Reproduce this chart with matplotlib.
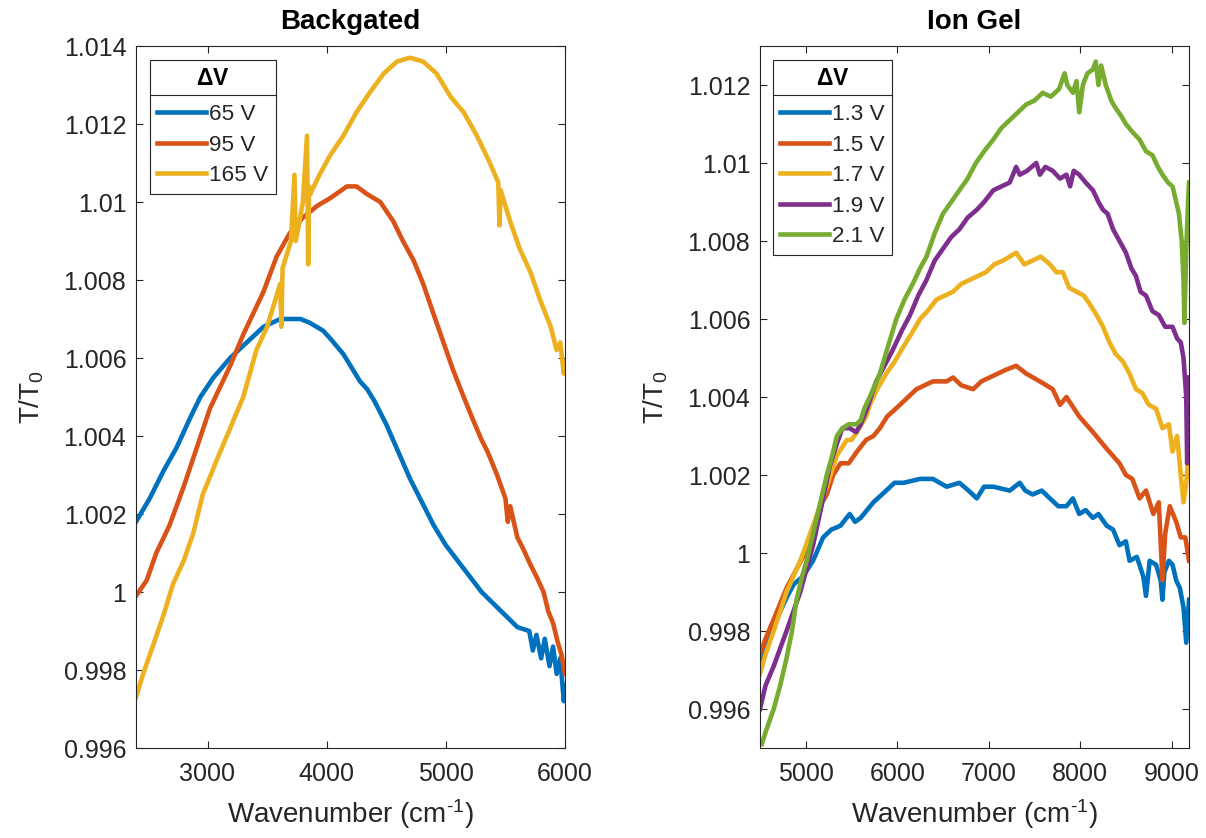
import matplotlib
matplotlib.use("Agg")
import matplotlib.pyplot as plt
from matplotlib.lines import Line2D
from matplotlib.ticker import FuncFormatter

# --- fonts: MATLAB-like Helvetica look ---
plt.rcParams['font.family'] = ['Liberation Sans', 'DejaVu Sans']
plt.rcParams['mathtext.fontset'] = 'custom'
plt.rcParams['mathtext.rm'] = 'Liberation Sans'
plt.rcParams['mathtext.it'] = 'Liberation Sans:italic'
plt.rcParams['mathtext.bf'] = 'Liberation Sans:bold'

# MATLAB default colour order
C_BLUE = '#0072BD'
C_ORANGE = '#D95319'
C_YELLOW = '#EDB120'
C_PURPLE = '#7E2F8E'
C_GREEN = '#77AC30'
INK = '#262626'

# ---------------- Backgated data ----------------
bg_labels = ['65 V', '95 V', '165 V']

bg_x_65 = [2400, 2515, 2630, 2740, 2860, 2940, 3050, 3190, 3330, 3470, 3610, 3690,
           3780, 3860, 3970, 4030, 4085, 4140, 4200, 4280, 4340, 4400, 4450, 4500,
           4600, 4700, 4800, 4900, 5000, 5100, 5200, 5300, 5400, 5500, 5600, 5700,
           5730, 5760, 5800, 5830, 5870, 5900, 5930, 5960, 5990, 6000]
bg_y_65 = [1.0018, 1.0024, 1.0031, 1.0037, 1.0045, 1.0050, 1.0055, 1.0060, 1.0064, 1.0068, 1.0070, 1.0070,
           1.0070, 1.0069, 1.0067, 1.0065, 1.0063, 1.0061, 1.0058, 1.0054, 1.0052, 1.0049, 1.0046, 1.0043,
           1.0036, 1.0029, 1.0023, 1.0017, 1.0012, 1.0008, 1.0004, 1.0000, 0.9997, 0.9994, 0.9991, 0.9990,
           0.9985, 0.9989, 0.9983, 0.9988, 0.9981, 0.9986, 0.9979, 0.9983, 0.9972, 0.9976]

bg_x_95 = [2400, 2490, 2570, 2680, 2800, 2910, 3020, 3190, 3300, 3470, 3580, 3690,
           3800, 3920, 4030, 4170, 4250, 4340, 4450, 4560, 4640, 4730, 4810, 4900,
           4980, 5060, 5150, 5230, 5300, 5350, 5430, 5500, 5520, 5540, 5600, 5650,
           5710, 5760, 5820, 5860, 5900, 5940, 5970, 6000]
bg_y_95 = [0.9999, 1.0003, 1.0010, 1.0017, 1.0027, 1.0037, 1.0047, 1.0058, 1.0066, 1.0077, 1.0086, 1.0092,
           1.0096, 1.0099, 1.0101, 1.0104, 1.0104, 1.0102, 1.0100, 1.0095, 1.0090, 1.0085, 1.0079, 1.0071,
           1.0064, 1.0057, 1.0050, 1.0044, 1.0039, 1.0036, 1.0030, 1.0024, 1.0018, 1.0022, 1.0014, 1.0011,
           1.0007, 1.0004, 1.0000, 0.9995, 0.9992, 0.9987, 0.9984, 0.9979]

bg_x_165 = [2400, 2460, 2540, 2630, 2710, 2800, 2880, 2960, 3080, 3190, 3300, 3410,
            3500, 3580, 3610, 3620, 3630, 3700, 3730, 3740, 3760, 3800, 3835, 3845, 3852, 3862,
            3940, 4030, 4140, 4250, 4360, 4480, 4590, 4700, 4810, 4920, 5040, 5150,
            5260, 5370, 5440, 5450, 5460, 5540, 5620, 5710, 5790, 5880, 5930, 5960, 5990, 6000]
bg_y_165 = [0.9973, 0.9979, 0.9986, 0.9994, 1.0002, 1.0008, 1.0015, 1.0025, 1.0034, 1.0042, 1.0050, 1.0062,
            1.0068, 1.0076, 1.0079, 1.0068, 1.0083, 1.0090, 1.0107, 1.0090, 1.0093, 1.0100, 1.0117, 1.0084, 1.0104, 1.0102,
            1.0107, 1.0112, 1.0117, 1.0123, 1.0128, 1.0133, 1.0136, 1.0137, 1.0136, 1.0133, 1.0127, 1.0123,
            1.0117, 1.0110, 1.0105, 1.0094, 1.0103, 1.0095, 1.0088, 1.0082, 1.0075, 1.0068, 1.0062, 1.0064, 1.0056, 1.0059]

# ---------------- Ion gel data ----------------
ig_labels = ['1.3 V', '1.5 V', '1.7 V', '1.9 V', '2.1 V']

ig_x_13 = [4500, 4560, 4650, 4720, 4800, 4870, 4970, 5080, 5190, 5280, 5380, 5480,
           5540, 5600, 5740, 5880, 5970, 6070, 6250, 6390, 6540, 6680, 6780, 6870,
           6950, 7050, 7230, 7340, 7400, 7480, 7580, 7670, 7760, 7850, 7920, 7990,
           8060, 8140, 8200, 8290, 8360, 8430, 8500, 8540, 8620, 8690, 8720, 8760,
           8830, 8880, 8900, 8920, 8970, 9010, 9050, 9090, 9130, 9160, 9190]
ig_y_13 = [0.9972, 0.9976, 0.9981, 0.9985, 0.9989, 0.9992, 0.9994, 0.9998, 1.0004, 1.0006, 1.0007, 1.0010,
           1.0008, 1.0009, 1.0013, 1.0016, 1.0018, 1.0018, 1.0019, 1.0019, 1.0017, 1.0018, 1.0016, 1.0014,
           1.0017, 1.0017, 1.0016, 1.0018, 1.0016, 1.0015, 1.0016, 1.0014, 1.0012, 1.0012, 1.0014, 1.0010,
           1.0011, 1.0009, 1.0010, 1.0007, 1.0006, 1.0002, 1.0003, 0.9998, 0.9999, 0.9994, 0.9989, 0.9998,
           0.9997, 0.9993, 0.9988, 0.9995, 0.9998, 0.9997, 0.9993, 0.9991, 0.9986, 0.9977, 0.9988]

ig_x_15 = [4500, 4560, 4650, 4720, 4790, 4880, 4970, 5050, 5120, 5180, 5230, 5300,
           5380, 5470, 5560, 5660, 5740, 5810, 5890, 6030, 6210, 6390, 6540, 6610,
           6700, 6830, 6920, 7010, 7190, 7300, 7410, 7560, 7700, 7780, 7850, 7990,
           8140, 8280, 8430, 8500, 8570, 8650, 8720, 8800, 8860, 8900, 8930, 8980,
           9050, 9100, 9150, 9190]
ig_y_15 = [0.9974, 0.9978, 0.9983, 0.9987, 0.9991, 0.9995, 0.9999, 1.0003, 1.0008, 1.0013, 1.0015, 1.0020,
           1.0023, 1.0023, 1.0026, 1.0029, 1.0030, 1.0032, 1.0035, 1.0038, 1.0042, 1.0044, 1.0044, 1.0045,
           1.0043, 1.0042, 1.0044, 1.0045, 1.0047, 1.0048, 1.0046, 1.0044, 1.0042, 1.0038, 1.0040, 1.0035,
           1.0031, 1.0027, 1.0023, 1.0020, 1.0019, 1.0014, 1.0016, 1.0010, 1.0013, 0.9993, 1.0005, 1.0012,
           1.0008, 1.0004, 1.0004, 0.9998]

ig_x_17 = [4500, 4560, 4650, 4790, 4940, 5080, 5230, 5340, 5450, 5500, 5560, 5660,
           5700, 5780, 5880, 5970, 6070, 6150, 6250, 6330, 6430, 6520, 6610, 6700,
           6790, 6880, 6970, 7060, 7160, 7230, 7300, 7390, 7480, 7570, 7670, 7740,
           7810, 7880, 7960, 8040, 8100, 8180, 8250, 8320, 8390, 8470, 8540, 8610,
           8680, 8750, 8830, 8900, 8970, 9010, 9060, 9100, 9130, 9160, 9190]
ig_y_17 = [0.9969, 0.9974, 0.9980, 0.9990, 0.9998, 1.0007, 1.0017, 1.0025, 1.0029, 1.0029, 1.0031, 1.0035,
           1.0038, 1.0042, 1.0046, 1.0049, 1.0053, 1.0056, 1.0060, 1.0062, 1.0065, 1.0066, 1.0067, 1.0069,
           1.0070, 1.0071, 1.0072, 1.0074, 1.0075, 1.0076, 1.0077, 1.0074, 1.0075, 1.0076, 1.0074, 1.0072,
           1.0072, 1.0068, 1.0067, 1.0066, 1.0064, 1.0061, 1.0058, 1.0054, 1.0051, 1.0049, 1.0046, 1.0042,
           1.0041, 1.0038, 1.0037, 1.0032, 1.0033, 1.0026, 1.0030, 1.0020, 1.0013, 1.0018, 1.0027]

ig_x_19 = [4500, 4560, 4650, 4790, 4940, 5080, 5190, 5260, 5340, 5400, 5480, 5550,
           5600, 5670, 5770, 5860, 5950, 6050, 6140, 6230, 6320, 6410, 6500, 6590,
           6680, 6770, 6870, 6950, 7050, 7140, 7230, 7300, 7340, 7420, 7520, 7560,
           7620, 7700, 7780, 7850, 7890, 7930, 7990, 8060, 8140, 8200, 8250, 8300,
           8360, 8430, 8500, 8560, 8610, 8660, 8720, 8790, 8860, 8930, 9010, 9060,
           9100, 9130, 9160, 9170, 9180, 9190]
ig_y_19 = [0.9960, 0.9966, 0.9971, 0.9980, 0.9990, 1.0002, 1.0014, 1.0022, 1.0028, 1.0032, 1.0032, 1.0031,
           1.0033, 1.0037, 1.0044, 1.0048, 1.0052, 1.0057, 1.0061, 1.0066, 1.0070, 1.0075, 1.0078, 1.0081,
           1.0083, 1.0086, 1.0088, 1.0090, 1.0093, 1.0094, 1.0095, 1.0099, 1.0097, 1.0098, 1.0100, 1.0097,
           1.0099, 1.0098, 1.0096, 1.0097, 1.0094, 1.0098, 1.0097, 1.0095, 1.0093, 1.0090, 1.0088, 1.0087,
           1.0083, 1.0080, 1.0077, 1.0073, 1.0071, 1.0067, 1.0066, 1.0062, 1.0061, 1.0058, 1.0058, 1.0055,
           1.0054, 1.0050, 1.0040, 1.0023, 1.0035, 1.0045]

ig_x_21 = [4520, 4560, 4650, 4720, 4790, 4850, 4900, 4960, 5010, 5070, 5120, 5180,
           5230, 5290, 5340, 5400, 5470, 5550, 5600, 5640, 5720, 5810, 5900, 5990,
           6080, 6170, 6250, 6320, 6410, 6500, 6590, 6680, 6770, 6860, 6950, 7050,
           7140, 7230, 7320, 7410, 7500, 7590, 7680, 7770, 7830, 7860, 7920, 7960,
           7990, 8030, 8080, 8140, 8170, 8200, 8230, 8280, 8340, 8390, 8450, 8500,
           8570, 8650, 8720, 8790, 8850, 8900, 8960, 9010, 9050, 9080, 9110, 9130,
           9140, 9160, 9180, 9190]
ig_y_21 = [0.9951, 0.9954, 0.9960, 0.9966, 0.9973, 0.9980, 0.9988, 0.9994, 0.9998, 1.0004, 1.0009, 1.0015,
           1.0020, 1.0025, 1.0030, 1.0032, 1.0033, 1.0033, 1.0034, 1.0037, 1.0041, 1.0046, 1.0053, 1.0060,
           1.0065, 1.0069, 1.0073, 1.0076, 1.0082, 1.0087, 1.0090, 1.0093, 1.0096, 1.0100, 1.0103, 1.0106,
           1.0109, 1.0111, 1.0113, 1.0115, 1.0116, 1.0118, 1.0117, 1.0119, 1.0123, 1.0120, 1.0118, 1.0121,
           1.0113, 1.0120, 1.0123, 1.0124, 1.0126, 1.0120, 1.0125, 1.0120, 1.0116, 1.0114, 1.0112, 1.0110,
           1.0108, 1.0106, 1.0103, 1.0102, 1.0099, 1.0097, 1.0095, 1.0094, 1.0090, 1.0087, 1.0080, 1.0070,
           1.0059, 1.0078, 1.0090, 1.0095]

LW = 3.3
LEG_FS = 16.2


def fmt_g(v, pos):
    return '%g' % round(v, 6)


def style_axes(ax, xlim, ylim, xticks, yticks, title):
    ax.set_xlim(*xlim)
    ax.set_ylim(*ylim)
    ax.set_xticks(xticks)
    ax.set_yticks(yticks)
    ax.yaxis.set_major_formatter(FuncFormatter(fmt_g))
    ax.xaxis.set_major_formatter(FuncFormatter(fmt_g))
    ax.tick_params(direction='in', length=5, width=0.8, top=True, right=True,
                   colors=INK, labelsize=18, labelcolor=INK)
    ax.tick_params(axis='x', pad=10)
    ax.tick_params(axis='y', pad=7)
    for sp in ax.spines.values():
        sp.set_color(INK)
        sp.set_linewidth(0.8)
    ax.set_title(title, fontsize=20, fontweight='bold', color='black', pad=12)
    ax.set_xlabel(r'Wavenumber (cm$^{\text{-1}}$)', fontsize=20, color=INK)
    ax.set_ylabel(r'T/T$_{\mathregular{0}}$', fontsize=20, color=INK)


def add_legend(ax, anchor):
    leg = ax.legend(loc='upper left', bbox_to_anchor=anchor, borderaxespad=0,
                    title=r'$\mathbf{\Delta V}$', fontsize=LEG_FS,
                    title_fontproperties={'size': 16.5, 'weight': 'bold'},
                    frameon=True, fancybox=False, framealpha=1, edgecolor=INK,
                    handlelength=2.15, handletextpad=0.15, labelspacing=0.42,
                    borderpad=0.33)
    leg.get_frame().set_linewidth(0.8)
    # wider gap between the title and the entries, as in MATLAB
    leg._legend_box.sep = 10.0
    for t in leg.get_texts():
        t.set_color(INK)
    return leg


fig = plt.figure(figsize=(12.06, 8.38), dpi=100)
ax1 = fig.add_axes([136 / 1206, 1 - 748 / 838, 429 / 1206, 702 / 838])
ax2 = fig.add_axes([760 / 1206, 1 - 748 / 838, 429 / 1206, 702 / 838])

# Backgated
ax1.plot(bg_x_65, bg_y_65, color=C_BLUE, lw=LW, label=bg_labels[0])
ax1.plot(bg_x_95, bg_y_95, color=C_ORANGE, lw=LW, label=bg_labels[1])
ax1.plot(bg_x_165, bg_y_165, color=C_YELLOW, lw=LW, label=bg_labels[2])
style_axes(ax1, (2400, 6000), (0.996, 1.014), [3000, 4000, 5000, 6000],
           [0.996 + 0.002 * i for i in range(10)], 'Backgated')

# Ion gel
ax2.plot(ig_x_13, ig_y_13, color=C_BLUE, lw=LW, label=ig_labels[0])
ax2.plot(ig_x_15, ig_y_15, color=C_ORANGE, lw=LW, label=ig_labels[1])
ax2.plot(ig_x_17, ig_y_17, color=C_YELLOW, lw=LW, label=ig_labels[2])
ax2.plot(ig_x_19, ig_y_19, color=C_PURPLE, lw=LW, label=ig_labels[3])
ax2.plot(ig_x_21, ig_y_21, color=C_GREEN, lw=LW, label=ig_labels[4])
style_axes(ax2, (4500, 9190), (0.995, 1.013), [5000, 6000, 7000, 8000, 9000],
           [0.996 + 0.002 * i for i in range(9)], 'Ion Gel')

for ax in (ax1, ax2):
    ax.yaxis.set_label_coords(-0.21, 0.5)
    ax.xaxis.set_label_coords(0.5, -0.07)

leg1 = add_legend(ax1, (14 / 429, 1 - 14 / 702))
leg2 = add_legend(ax2, (13 / 429, 1 - 14 / 702))

# MATLAB draws a rule under the legend title
fig.canvas.draw()
renderer = fig.canvas.get_renderer()
inv = fig.transFigure.inverted()
for leg in (leg1, leg2):
    fb = leg.get_frame().get_window_extent(renderer)
    tb = leg.get_title().get_window_extent(renderer)
    eb = leg.get_texts()[0].get_window_extent(renderer)
    y_sep = (tb.y0 + eb.y1) / 2 + 2
    (x0, y0), (x1, _) = inv.transform([(fb.x0, y_sep), (fb.x1, y_sep)])
    fig.add_artist(Line2D([x0, x1], [y0, y0], color=INK, lw=0.8,
                          transform=fig.transFigure))

fig.savefig('out.png', dpi=100, facecolor='white')
